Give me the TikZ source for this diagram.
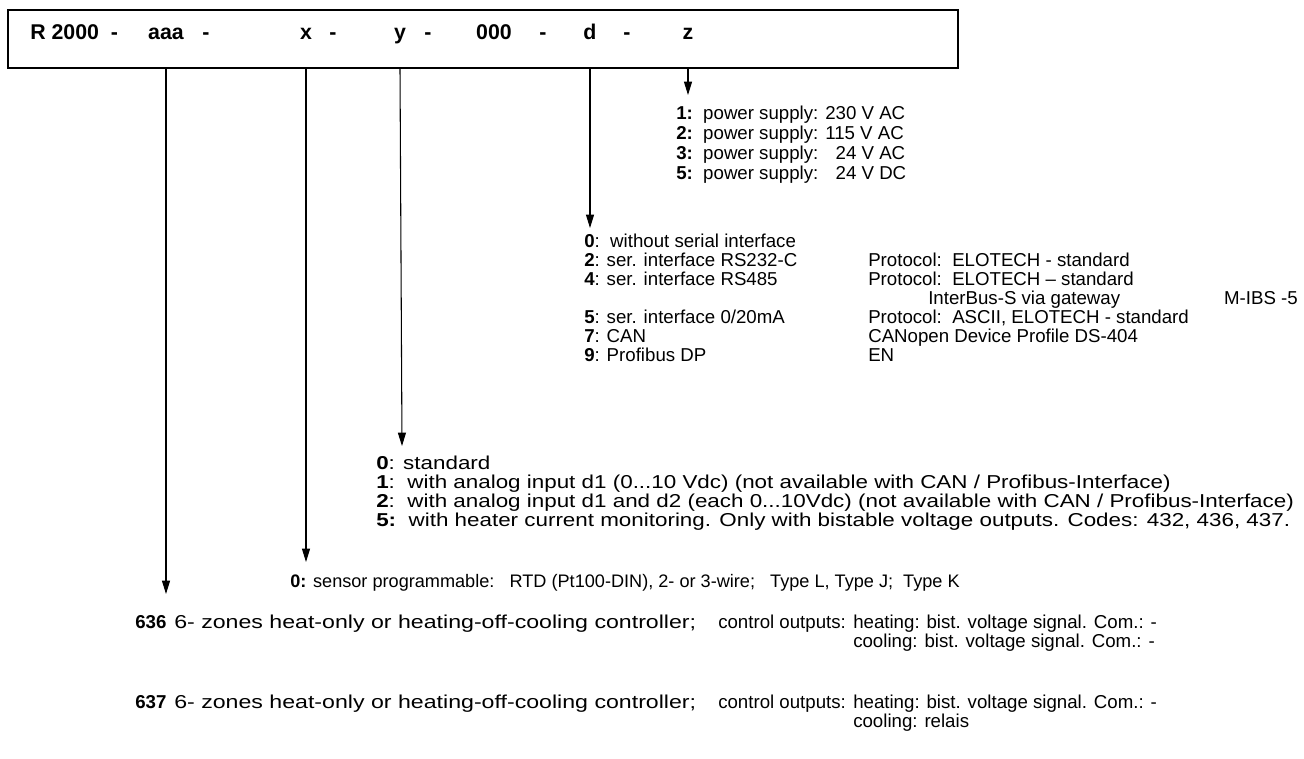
\documentclass[tikz,border=0pt]{standalone}
\usepackage{fontspec}
\setmainfont{Liberation Sans}
\newfontfamily\widefont[FakeStretch=1.2]{Liberation Sans}
\newfontfamily\widerfont[FakeStretch=1.24]{Liberation Sans}
\usetikzlibrary{arrows.meta}

\newcommand{\bodyfont}{\fontsize{14}{16}\selectfont}
\newcommand{\headfont}{\fontsize{16}{18}\selectfont\bfseries}

\tikzset{
  every node/.style={inner sep=0pt, font=\bodyfont},
  line/.style={anchor=base west},
  wideline/.style={anchor=base west, font=\bodyfont\widefont},
  head/.style={anchor=base, font=\headfont},
  pointer/.style={line width=0.8pt, -{Triangle[length=10pt,width=6pt]}}
}

\begin{document}
\begin{tikzpicture}[x=0.75pt,y=-0.75pt]
\useasboundingbox (0,0) rectangle (1304,758);

% type code
\node (box) [draw, line width=1.2pt, minimum width=712.5pt, minimum height=43.5pt] at (483,39) {};
\node (r2000) [head, anchor=base west] at (30,39) {R 2000\ \ -};
\node (aaa) [head] at (166,39) {aaa};
\node (dash1) [head] at (206,39) {-};
\node (x) [head] at (306,39) {x};
\node (dash2) [head] at (333,39) {-};
\node (y) [head] at (400,39) {y};
\node (dash3) [head] at (428,39) {-};
\node (zeros) [head] at (494,39) {000};
\node (dash4) [head] at (543,39) {-};
\node (d) [head] at (590,39) {d};
\node (dash5) [head] at (627,39) {-};
\node (z) [head] at (688,39) {z};

\coordinate (tipz) at (688,95);
\coordinate (tipd) at (590,228);
\coordinate (tipy) at (402,446);
\coordinate (tipx) at (306,562);
\coordinate (tipaaa) at (166,594);

\draw[pointer] (box.south -| z) -- (tipz);
\draw[pointer] (box.south -| d) -- (tipd);
\draw[pointer] (box.south -| y) -- (tipy);
\draw[pointer] (box.south -| x) -- (tipx);
\draw[pointer] (box.south -| aaa) -- (tipaaa);

% z: power supply
\node (z1) [line] at (676,119) {\textbf{1:}\ \ power supply: 230 V AC};
\node (z2) [line] at (676,139) {\textbf{2:}\ \ power supply: 115 V AC};
\node (z3) [line] at (676,159) {\textbf{3:}\ \ power supply: \hphantom{2}24 V AC};
\node (z5) [line] at (676,179) {\textbf{5:}\ \ power supply: \hphantom{2}24 V DC};

% d: interface
\node (d0) [line] at (584,247) {\textbf{0}:\ \ without serial interface};
\node (d2) [line] at (584,266) {\textbf{2}: ser. interface RS232-C};
\node (d4) [line] at (584,285) {\textbf{4}: ser. interface RS485};
\node (d5) [line] at (584,323) {\textbf{5}: ser. interface 0/20mA};
\node (d7) [line] at (584,342) {\textbf{7}: CAN};
\node (d9) [line] at (584,361) {\textbf{9}: Profibus DP};
\node (p2) [line] at (868,266) {Protocol:\ \ ELOTECH - standard};
\node (p4) [line] at (868,285) {Protocol:\ \ ELOTECH – standard};
\node (ibs) [line] at (928,304) {InterBus-S via gateway};
\node (mibs) [anchor=base east] at (1298,304) {M-IBS -5};
\node (p5) [line] at (868,323) {Protocol:\ \ ASCII, ELOTECH - standard};
\node (p7) [line] at (868,342) {CANopen Device Profile DS-404};
\node (p9) [line] at (868,361) {EN};

% y: analog input
\node (y0) [wideline] at (376,469) {\textbf{0}: standard};
\node (y1) [wideline] at (376,488) {\textbf{1}:\ \ with analog input d1 (0...10 Vdc) (not available with CAN / Profibus-Interface)};
\node (y2) [wideline] at (376,507) {\textbf{2}:\ \ with analog input d1 and d2 (each 0...10Vdc) (not available with CAN / Profibus-Interface)};
\node (y5) [wideline] at (376,526) {\textbf{5:}\ \ with heater current monitoring. Only with bistable voltage outputs. Codes: 432, 436, 437.};

% x: sensor
\node (x0) [line, font=\fontsize{13.6}{16}\selectfont] at (290,587) {\textbf{0:} sensor programmable:\ \ \ RTD (Pt100-DIN), 2- or 3-wire;\ \ \ Type L, Type J;\ \ Type K};

% aaa: controller
\node (c636) [line] at (135,628) {\textbf{636}};
\node (t636) [line, font=\bodyfont\widerfont] at (174,628) {6- zones heat-only or heating-off-cooling controller;};
\node (o636) [line] at (718,628) {control outputs:};
\node (h636) [line] at (853,628) {heating: bist. voltage signal. Com.: -};
\node (k636) [line] at (853,647) {cooling: bist. voltage signal. Com.: -};
\node (c637) [line] at (135,708) {\textbf{637}};
\node (t637) [line, font=\bodyfont\widerfont] at (174,708) {6- zones heat-only or heating-off-cooling controller;};
\node (o637) [line] at (718,708) {control outputs:};
\node (h637) [line] at (853,708) {heating: bist. voltage signal. Com.: -};
\node (k637) [line] at (853,727) {cooling: relais};
\end{tikzpicture}
\end{document}
